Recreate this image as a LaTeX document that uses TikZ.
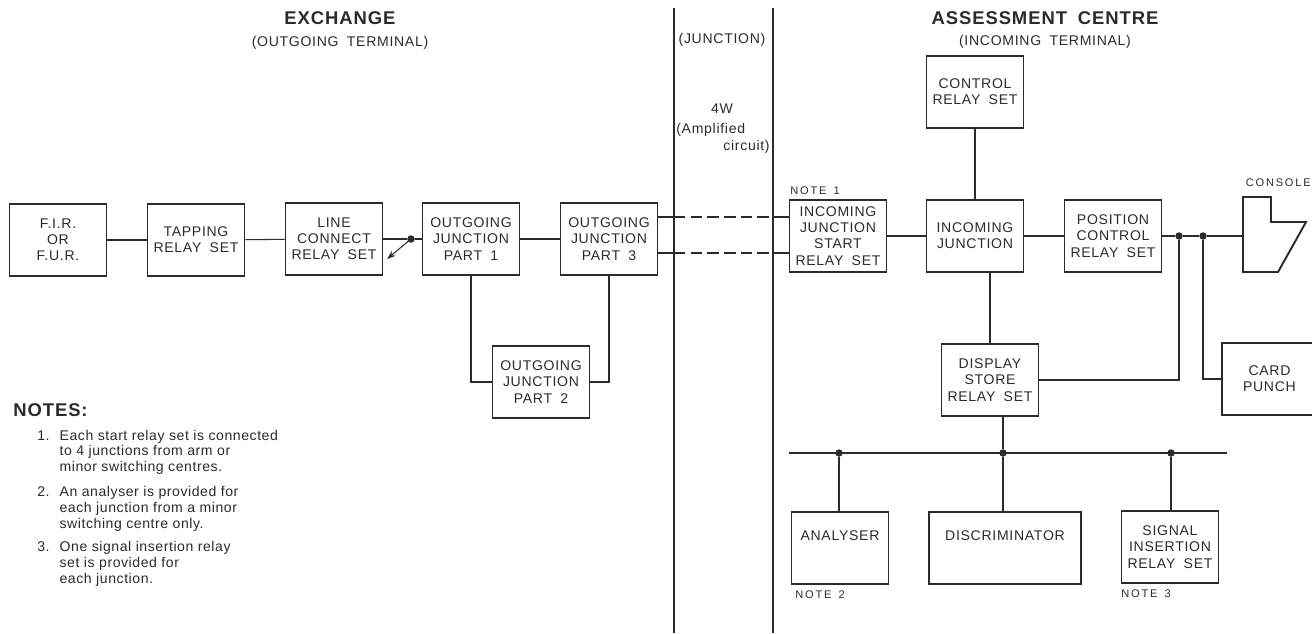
\documentclass[tikz,border=0pt]{standalone}
\usepackage{fontspec}
\setmainfont{Liberation Sans}
\newfontfamily\boxfont[LetterSpace=5,WordSpace=1.8]{Liberation Sans}
\newfontfamily\notefont[LetterSpace=16,WordSpace=1.5]{Liberation Sans}
\newfontfamily\listfont[LetterSpace=4]{Liberation Sans}
\usetikzlibrary{arrows.meta}
\definecolor{encre}{HTML}{2B2B2B}

\begin{document}
\begin{tikzpicture}[x=0.02cm, y=-0.02cm, color=encre]
\tikzset{bloc/.style={draw, line width=1.1pt, minimum width=1.94cm, minimum height=1.44cm, inner sep=0pt, align=center, font=\boxfont\fontsize{8}{9.2}\selectfont},
  fil/.style={line width=0.6pt},
  titre/.style={font=\boxfont\bfseries\fontsize{10.5}{12}\selectfont, inner sep=0pt},
  soustitre/.style={font=\boxfont\fontsize{8}{9.2}\selectfont, inner sep=0pt},
  repere/.style={font=\notefont\fontsize{6.3}{7.5}\selectfont, inner sep=0pt},
  point/.style={circle, fill, inner sep=0pt, minimum size=0.15cm}}
\useasboundingbox (0,0) rectangle (1312,633);
\coordinate (VLh) at (674,8);
\coordinate (VLb) at (674,633);
\coordinate (VRh) at (773,8);
\coordinate (VRb) at (773,633);
\draw[line width=0.8pt] (VLh) -- (VLb);
\draw[line width=0.8pt] (VRh) -- (VRb);
\node[titre, anchor=base] (EXC) at (340,24) {EXCHANGE};
\node[soustitre, anchor=base] (OUT) at (340,46) {(OUTGOING TERMINAL)};
\node[soustitre, anchor=base] (JNC) at (722,43) {(JUNCTION)};
\node[soustitre, anchor=base] (FW) at (722,113) {4W};
\node[soustitre, anchor=base west] (AMP) at (676,133) {(Amplified};
\node[soustitre, anchor=base east] (CIR) at (770,150) {circuit)};
\node[titre, anchor=base] (ASC) at (1045,24) {ASSESSMENT CENTRE};
\node[soustitre, anchor=base] (INC) at (1045,45) {(INCOMING TERMINAL)};
\node[bloc] (FIR) at (58,240) {F.I.R.\\OR\\F.U.R.};
\node[bloc] (TAP) at (196,240) {TAPPING\\RELAY SET};
\node[bloc] (LCR) at (334,239) {LINE\\CONNECT\\RELAY SET};
\node[bloc] (OJ1) at (471,239) {OUTGOING\\JUNCTION\\PART 1};
\node[bloc] (OJ3) at (609,239) {OUTGOING\\JUNCTION\\PART 3};
\node[bloc] (OJ2) at (541,382) {OUTGOING\\JUNCTION\\PART 2};
\node[point] (SW) at (411,239) {};
\coordinate (SWa) at (387,259);
\draw[fil] (FIR) -- (TAP);
\draw[fil] (TAP) -- (LCR);
\draw[fil] (LCR) -- (SW) -- (OJ1);
\draw[fil, -{Stealth[length=5pt,width=3.5pt]}] (SW.center) -- (SWa);
\draw[fil] (OJ1) -- (OJ3);
\draw[fil] (OJ1.south) |- (OJ2.west);
\draw[fil] (OJ3.south) |- (OJ2.east);
\node[bloc] (CRS) at (975,92) {CONTROL\\RELAY SET};
\node[bloc] (IJS) at (838,236) {INCOMING\\JUNCTION\\START\\RELAY SET};
\node[bloc] (IJ) at (975,236) {INCOMING\\JUNCTION};
\node[bloc] (PCR) at (1113,236) {POSITION\\CONTROL\\RELAY SET};
\node[bloc] (DSR) at (990,380) {DISPLAY\\STORE\\RELAY SET};
\node[bloc, minimum width=1.9cm, anchor=west] (CP) at (1221,379) {CARD\\PUNCH};
\node[bloc, text depth=14pt] (AN) at (840,548) {ANALYSER};
\node[bloc, text depth=14pt, minimum width=3.04cm] (DI) at (1005,548) {DISCRIMINATOR};
\node[bloc] (SI) at (1170,547) {SIGNAL\\INSERTION\\RELAY SET};
\node[repere, anchor=base west] (R1) at (790,194) {NOTE 1};
\node[repere, anchor=base west] (R2) at (795,598) {NOTE 2};
\node[repere, anchor=base west] (R3) at (1121,597) {NOTE 3};
\node[repere, anchor=base east] (CONS) at (1311,186) {CONSOLE};
\draw[line width=1.1pt] (1243,197) -- (1271,197) -- (1271,222) -- (1306,222) -- (1278,272) -- (1243,272) -- cycle;
\coordinate (CON) at (1243,236);
\coordinate (JA1) at (674,217);
\coordinate (JA2) at (773,217);
\coordinate (JB1) at (674,253);
\coordinate (JB2) at (773,253);
\draw[fil] (OJ3.east |- JA1) -- (JA1);
\draw[fil, dash pattern=on 6.5pt off 3pt] (JA1) -- (JA2);
\draw[fil] (JA2) -- (IJS.west |- JA2);
\draw[fil] (OJ3.east |- JB1) -- (JB1);
\draw[fil, dash pattern=on 6.5pt off 3pt] (JB1) -- (JB2);
\draw[fil] (JB2) -- (IJS.west |- JB2);
\node[point] (D1) at (1179,236) {};
\node[point] (D2) at (1203,236) {};
\draw[fil] (CRS) -- (IJ);
\draw[fil] (IJS) -- (IJ);
\draw[fil] (IJ) -- (PCR);
\draw[fil] (PCR) -- (D1) -- (D2) -- (CON);
\draw[fil] (D1) |- (DSR);
\draw[fil] (D2) |- (CP);
\draw[fil] (DSR.north) -- (DSR.north |- IJ.south);
\coordinate (BG) at (789,453);
\coordinate (BD) at (1227,453);
\draw[fil] (BG) -- (BD);
\node[point] (B1) at (839,453) {};
\node[point] (B2) at (1003,453) {};
\node[point] (B3) at (1171,453) {};
\draw[fil] (DSR.south -| B2) -- (B2);
\draw[fil] (B1) -- (B1 |- AN.north);
\draw[fil] (B2) -- (B2 |- DI.north);
\draw[fil] (B3) -- (B3 |- SI.north);
\node[titre, anchor=base west] (NOT) at (13,416) {NOTES:};
\node[anchor=base west, inner sep=0pt, font=\listfont\fontsize{8}{9.1}\selectfont] (LST) at (37,440) {\begin{tabular}[t]{@{}l@{\hspace{0.2cm}}l@{}}
1. & Each start relay set is connected\\
 & to 4 junctions from arm or\\
 & minor switching centres.\\[0.17cm]
2. & An analyser is provided for\\
 & each junction from a minor\\
 & switching centre only.\\[0.15cm]
3. & One signal insertion relay\\
 & set is provided for\\
 & each junction.
\end{tabular}};
\end{tikzpicture}
\end{document}
